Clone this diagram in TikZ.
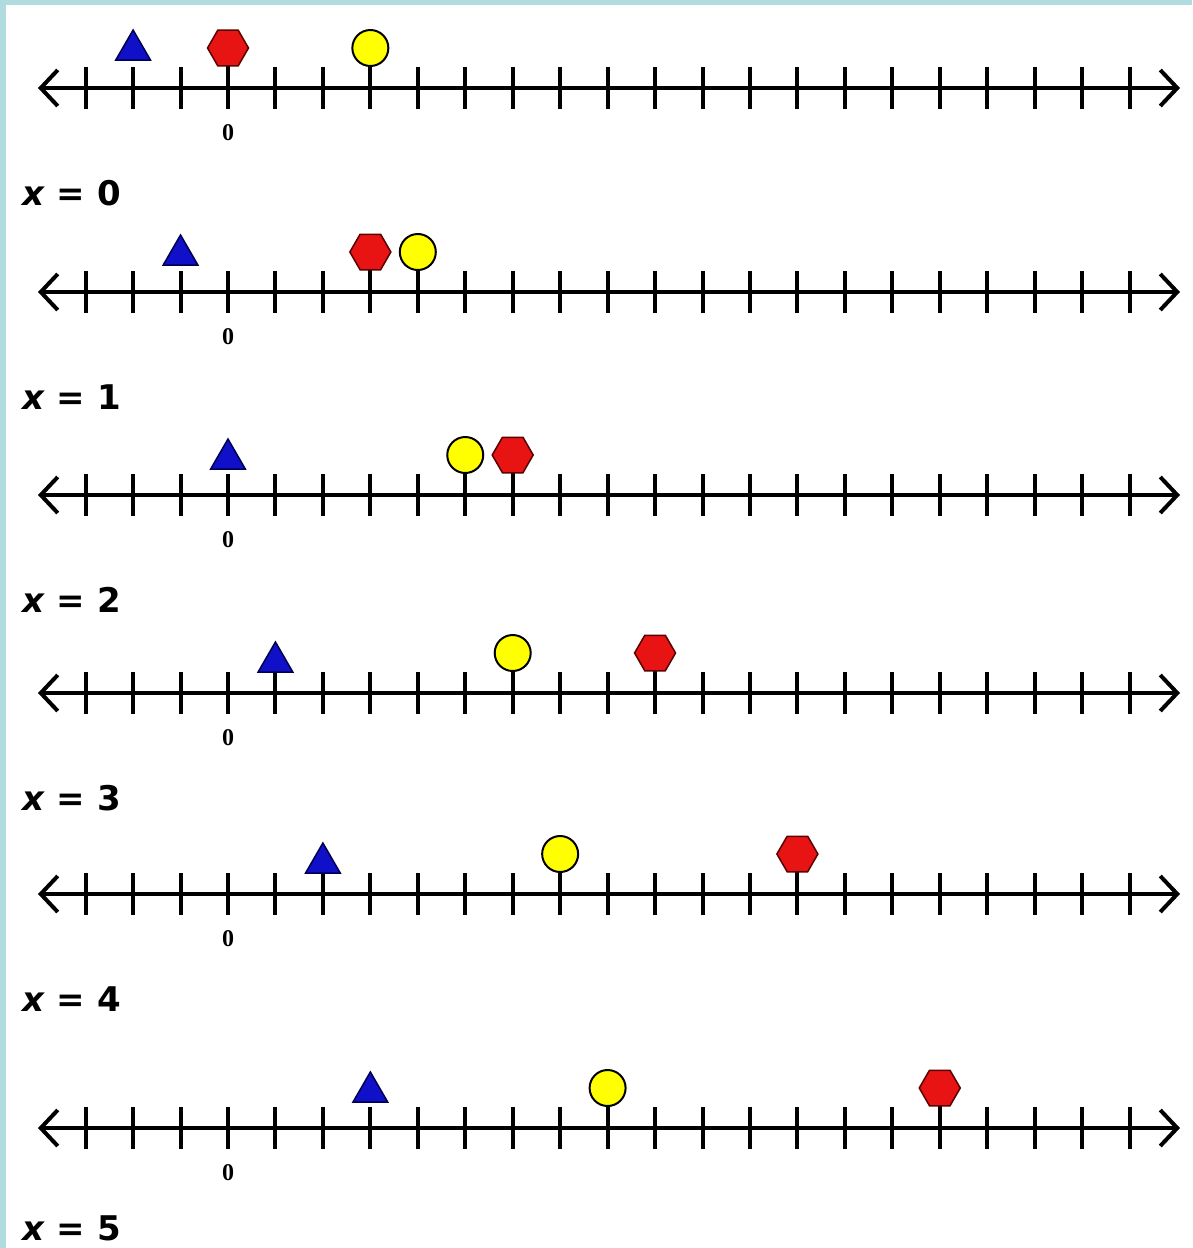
\documentclass[tikz,border=0pt]{standalone}
\usepackage{fontspec}
\setmainfont{DejaVu Sans}
\newfontfamily\zerofont{Liberation Serif}
\usetikzlibrary{shapes.geometric,arrows.meta}
\definecolor{framecol}{RGB}{176,220,224}
\definecolor{trifill}{RGB}{16,16,200}
\definecolor{tridraw}{RGB}{0,0,80}
\definecolor{hexfill}{RGB}{232,20,20}
\definecolor{hexdraw}{RGB}{90,0,0}
\definecolor{circfill}{RGB}{255,255,0}
\tikzset{
  tickline/.style={line width=4pt,black},
  axisline/.style={line width=4pt,black,
    {Straight Barb[length=17pt,width=36pt,line width=4pt]}-{Straight Barb[length=17pt,width=36pt,line width=4pt]}},
  trishape/.style={regular polygon,regular polygon sides=3,minimum size=40pt,inner sep=0pt,outer sep=0pt,
    draw=tridraw,fill=trifill,line width=1.5pt,anchor=south},
  hexshape/.style={regular polygon,regular polygon sides=6,minimum size=41pt,inner sep=0pt,outer sep=0pt,
    draw=hexdraw,fill=hexfill,line width=1.5pt},
  circshape/.style={circle,minimum size=36pt,inner sep=0pt,outer sep=0pt,
    draw=black,fill=circfill,line width=2pt},
  zerolabel/.style={font=\zerofont\bfseries\fontsize{24}{28}\selectfont,anchor=base,inner sep=0pt},
  rowlabel/.style={font=\bfseries\fontsize{34}{40}\selectfont,anchor=base west,inner sep=0pt}
}
\begin{document}
\begin{tikzpicture}[x=1pt,y=-1pt]
\useasboundingbox (0,0) rectangle (1192,1248);
\fill[white] (0,0) rectangle (1192,1248);
\fill[framecol] (0,0) rectangle (6,1248);
\fill[framecol] (0,0) rectangle (1192,5);
\foreach \r/\yy/\t/\tb/\c/\h/\lb in {0/88/-2/-28/3/0/117, 1/292/-1/-27/4/3/117, 2/495/0/-26/5/6/117, 3/693/1/-21/6/9/117, 4/894/2/-21/7/12/117, 5/1128/3/-26/8/15/112}{
  \foreach \k in {-3,...,19}{
    \draw[tickline] ({228+47.45*\k},{\yy-21}) -- ({228+47.45*\k},{\yy+21});
  }
  \draw[tickline] ({228+47.45*\c},{\yy-21}) -- ({228+47.45*\c},{\yy-40});
  \draw[tickline] ({228+47.45*\h},{\yy-21}) -- ({228+47.45*\h},{\yy-40});
  \coordinate (L\r) at (38,\yy);
  \coordinate (R\r) at (1180,\yy);
  \draw[axisline] (L\r) -- (R\r);
  \node[trishape] (tri\r) at ({228+47.45*\t},{\yy+\tb}) {};
  \node[circshape] (circ\r) at ({228+47.45*\c},{\yy-40}) {};
  \node[hexshape] (hex\r) at ({228+47.45*\h},{\yy-40}) {};
  \node[zerolabel] (zero\r) at (228,{\yy+52}) {0};
  \node[rowlabel] (lbl\r) at (22,{\yy+\lb}) {\textit{x} = \r};
}
\end{tikzpicture}
\end{document}
